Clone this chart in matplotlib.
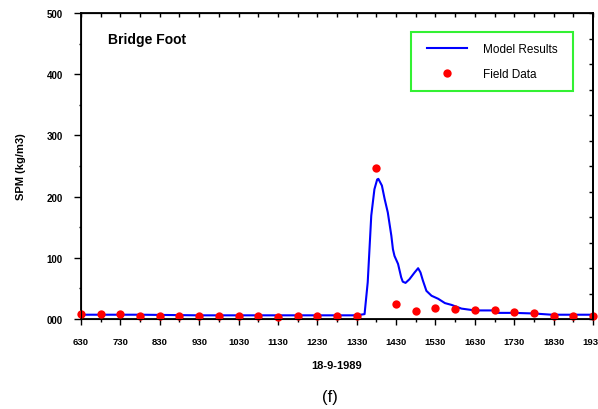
import numpy as np
import matplotlib.pyplot as plt

# time in hours, 18-9-1989
model_t = [6.5, 8.0, 9.5, 11.0, 12.5, 13.4, 13.6, 13.70, 13.78, 13.87, 13.95, 14.02, 14.05,
           14.14, 14.21, 14.29, 14.38, 14.42, 14.46, 14.55, 14.63, 14.67, 14.74, 14.84,
           14.97, 15.06, 15.12, 15.18, 15.27, 15.40, 15.57, 15.74, 15.91, 16.16, 16.5,
           16.95, 17.0, 17.5, 18.0, 18.45, 19.0, 19.5]
model_spm = [7, 7, 6, 6, 6, 6, 7, 8, 60, 169, 212, 228, 229,
             218, 196, 174, 136, 114, 103, 90, 68, 61, 59, 65,
             76, 83, 76, 63, 46, 38, 33, 26, 23, 17, 14,
             14, 10, 10, 9, 7, 7, 7]

field_t = [6.5, 7.0, 7.5, 8.0, 8.5, 9.0, 9.5, 10.0, 10.5, 11.0, 11.5, 12.0, 12.5, 13.0, 13.5,
           14.0, 14.5, 15.0, 15.5, 16.0, 16.5, 17.0, 17.5, 18.0, 18.5, 19.0, 19.5]
field_spm = [8, 8, 8, 5, 5, 5, 5, 5, 5, 5, 4, 5, 5, 5, 5,
             247, 25, 13, 18, 16, 15, 15, 12, 10, 5, 5, 5]

xticks = np.arange(6.5, 19.6, 1.0)
xlabels = ["630", "730", "830", "930", "1030", "1130", "1230", "1330",
           "1430", "1530", "1630", "1730", "1830", "1930"]
yticks = [0, 100, 200, 300, 400, 500]
ylabels = ["000", "100", "200", "300", "400", "500"]

plt.rcParams["font.family"] = "Liberation Sans"
fig = plt.figure(figsize=(5.98, 4.10), dpi=100)
ax = fig.add_axes([81 / 598, 1 - 320 / 410, 512 / 598, 306 / 410])

ax.plot(model_t, model_spm, color="#0000ff", lw=1.5, label="Model Results", zorder=3)
ax.plot(field_t, field_spm, "o", color="#ff0000", ms=6, mec="none",
        label="Field Data", zorder=4, clip_on=False)

ax.set_xlim(6.5, 19.5)
ax.set_ylim(0, 500)
ax.set_xticks(xticks)
ax.set_xticklabels(xlabels, fontsize=6.8, fontweight="bold")
ax.set_xticks(np.arange(7.0, 19.5, 1.0), minor=True)
ax.set_yticks(yticks)
ax.set_yticklabels(ylabels, fontsize=7, fontweight="bold")
ax.set_yticks(np.arange(50, 500, 100), minor=True)

ax.tick_params(axis="x", which="both", direction="out", top=False, width=1.0, pad=9)
ax.tick_params(axis="x", which="major", length=4)
ax.tick_params(axis="x", which="minor", length=2.5)
ax.tick_params(axis="y", which="both", direction="out", right=False, width=1.0, pad=8)
ax.tick_params(axis="y", which="major", length=5)
ax.tick_params(axis="y", which="minor", length=1.5)
for s in ax.spines.values():
    s.set_linewidth(1.3)

# inward ticks on top and right
axt = ax.secondary_xaxis("top")
axt.set_xticks(np.arange(6.5, 19.6, 0.5))
axt.tick_params(direction="in", length=3, width=1.0, labeltop=False)
axr = ax.twinx()
axr.set_ylim(0, 12)
axr.set_yticks(range(13))
axr.tick_params(direction="in", length=3, width=1.0, labelright=False)
axr.spines["right"].set_linewidth(1.3)

ax.set_ylabel("SPM (kg/m3)", fontsize=8, fontweight="bold", labelpad=15)
ax.set_xlabel("18-9-1989", fontsize=8, fontweight="bold", labelpad=10)

fig.text(108 / 598, 1 - 40 / 410, "Bridge Foot", fontsize=10, fontweight="bold",
         va="center", ha="left")

leg = axr.legend(*ax.get_legend_handles_labels(),
                 loc="upper left", bbox_to_anchor=(411 / 598, 1 - 33 / 410),
                 bbox_transform=fig.transFigure, frameon=True, fancybox=False,
                 fontsize=8.5, handlelength=3.4, borderpad=0.95, labelspacing=1.1,
                 handletextpad=1.3, borderaxespad=0)
leg.get_frame().set_edgecolor("#00ee00")
leg.get_frame().set_linewidth(1.5)
leg._legend_box.set_width(140)

fig.text(330 / 598, 1 - 398 / 410, "(f)", fontsize=12, ha="center", va="center")

fig.savefig("out.png", dpi=100)
